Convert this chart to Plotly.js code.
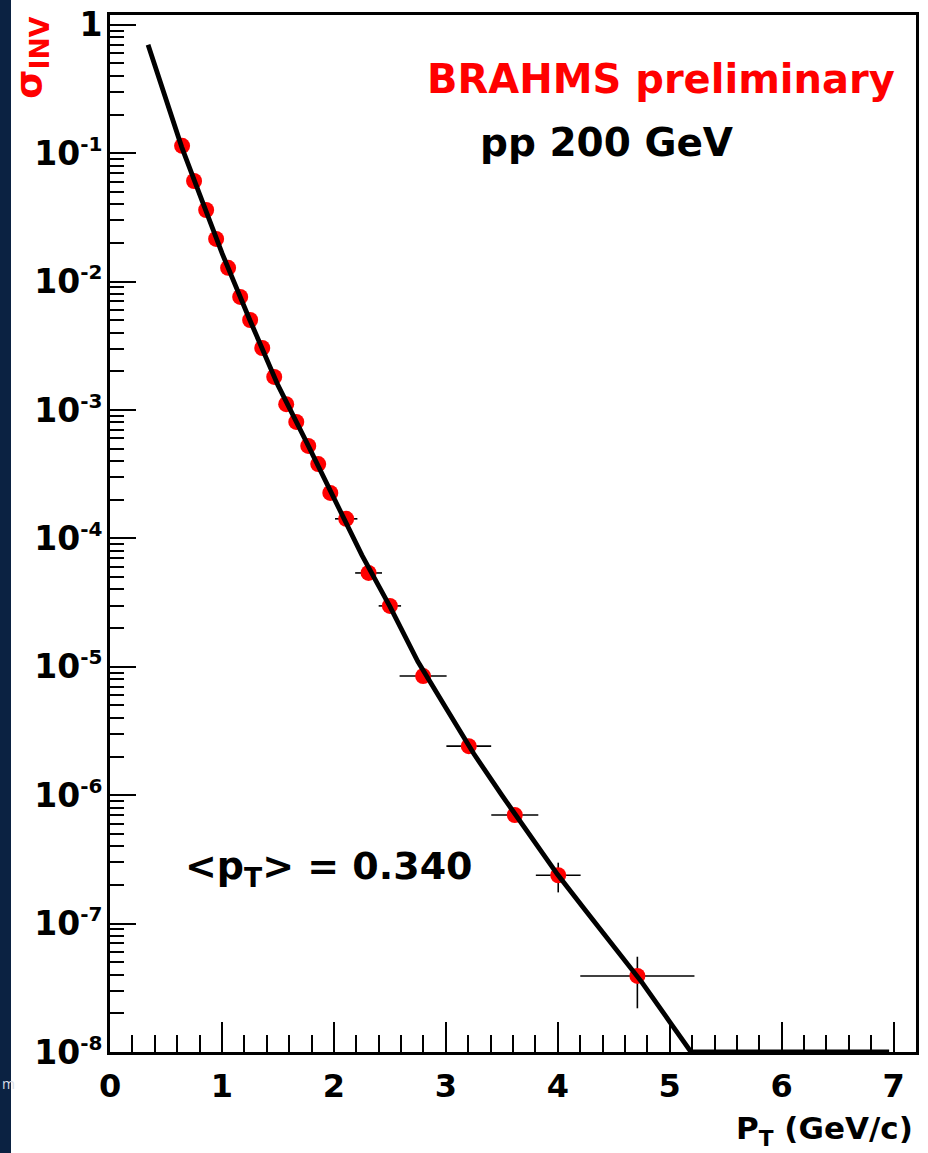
<!DOCTYPE html>
<html>
<head>
<meta charset="utf-8">
<script src="https://cdn.plot.ly/plotly-3.0.1.min.js"></script>
<style>
  html, body { margin: 0; padding: 0; background: #ffffff; }
  #chart { width: 928px; height: 1153px; }
</style>
</head>
<body>
<div id="chart"></div>
<script>
// ---- measured data (pT in GeV/c, invariant cross section) ----
const ptX = [0.644, 0.751, 0.859, 0.948, 1.055, 1.163, 1.252, 1.36, 1.467, 1.574, 1.664,
             1.771, 1.86, 1.968, 2.11, 2.31, 2.50, 2.797, 3.205, 3.616, 4.004, 4.711];
const sigmaY = [0.114, 0.0607, 0.0361, 0.0215, 0.0128, 0.00759, 0.00502, 0.00304, 0.00181,
                0.00111, 8.07e-4, 5.25e-4, 3.79e-4, 2.26e-4, 1.42e-4, 5.38e-5, 2.98e-5,
                8.47e-6, 2.41e-6, 7.01e-7, 2.38e-7, 3.91e-8];
const ptXErr = [0.05, 0.05, 0.05, 0.05, 0.05, 0.05, 0.05, 0.05, 0.05, 0.05, 0.05,
                0.05, 0.05, 0.05, 0.10, 0.12, 0.10, 0.21, 0.20, 0.21, 0.20, 0.51];
const sigmaErrPlus = [0, 0, 0, 0, 0, 0, 0, 0, 0, 0, 0,
                      0, 0, 0, 0, 0, 0, 0, 0, 0, 6.0e-8, 1.61e-8];
const sigmaErrMinus = [0, 0, 0, 0, 0, 0, 0, 0, 0, 0, 0,
                       0, 0, 0, 0, 0, 0, 0, 0, 0, 6.3e-8, 1.72e-8];

// ---- fit curve ----
const fitX = [0.34, 0.5, 0.64, 0.8, 1.0, 1.25, 1.5, 1.75, 2.0, 2.25, 2.5, 2.75, 3.0,
              3.25, 3.5, 3.75, 4.0, 4.25, 4.5, 4.75, 5.0, 5.19, 5.21, 6.96];
const fitY = [0.70, 0.264, 0.112, 0.048, 0.0167, 0.0050, 0.00156, 5.75e-4, 2.03e-4,
              7.4e-5, 2.95e-5, 1.1e-5, 4.8e-6, 2.1e-6, 1.0e-6, 4.9e-7, 2.4e-7, 1.26e-7,
              6.7e-8, 3.5e-8, 1.72e-8, 1.0e-8, 1.0e-8, 1.0e-8];

// ---- axis ticks ----
const yTickVals = [1, 1e-1, 1e-2, 1e-3, 1e-4, 1e-5, 1e-6, 1e-7, 1e-8];
const yExponents = ['', '-1', '-2', '-3', '-4', '-5', '-6', '-7', '-8'];
const yTickText = yExponents.map(e => e === '' ? '1'
  : '10<sup><span style="font-size:20px">' + e + '</span></sup>');
const xTickVals = [0, 1, 2, 3, 4, 5, 6, 7];
const yMinorVals = [];
for (let k = -8; k <= -1; k++) {
  for (let m = 2; m <= 9; m++) yMinorVals.push(m * Math.pow(10, k));
}

const FONT = 'DejaVu Sans, Liberation Sans, Arial, sans-serif';

const dataTrace = {
  type: 'scatter', mode: 'markers',
  x: ptX, y: sigmaY,
  marker: { color: '#ff0000', size: 16, line: { width: 0 } },
  error_x: { type: 'data', array: ptXErr, color: '#000000', thickness: 1.6, width: 0 },
  error_y: { type: 'data', symmetric: false, array: sigmaErrPlus, arrayminus: sigmaErrMinus,
             color: '#000000', thickness: 1.6, width: 0 },
  hoverinfo: 'skip', showlegend: false
};

const fitTrace = {
  type: 'scatter', mode: 'lines',
  x: fitX, y: fitY,
  line: { color: '#000000', width: 4.8, shape: 'linear' },
  cliponaxis: false,
  hoverinfo: 'skip', showlegend: false
};

const W = 928, H = 1153, mL = 110, mR = 12, mT = 15, mB = 101;
const pw = W - mL - mR, ph = H - mT - mB;
const px = v => (v - mL) / pw;
const py = v => (H - mB - v) / ph;

const layout = {
  width: W, height: H,
  margin: { l: mL, r: mR, t: mT, b: mB, pad: 0 },
  paper_bgcolor: '#ffffff', plot_bgcolor: '#ffffff',
  showlegend: false,
  xaxis: {
    type: 'linear', range: [0, 7.2],
    tickmode: 'array', tickvals: xTickVals, ticktext: xTickVals.map(String),
    ticks: 'inside', ticklen: 30, tickwidth: 2, tickcolor: '#000',
    minor: { tickmode: 'linear', tick0: 0, dtick: 0.2, ticks: 'inside', ticklen: 17, tickwidth: 2, tickcolor: '#000' },
    showline: true, linecolor: '#000', linewidth: 3, mirror: true,
    showgrid: false, zeroline: false,
    ticklabelstandoff: 4,
    tickfont: { family: FONT, size: 32, color: '#000', weight: 'bold' }
  },
  yaxis: {
    type: 'log', range: [-8, 0.076],
    tickmode: 'array', tickvals: yTickVals, ticktext: yTickText,
    ticks: 'inside', ticklen: 26, tickwidth: 2, tickcolor: '#000',
    minor: { tickmode: 'array', tickvals: yMinorVals, ticks: 'inside', ticklen: 14, tickwidth: 2, tickcolor: '#000' },
    showline: true, linecolor: '#000', linewidth: 3, mirror: true,
    showgrid: false, zeroline: false,
    ticklabelstandoff: -2,
    tickfont: { family: FONT, size: 33, color: '#000', weight: 'bold' }
  },
  shapes: [
    { type: 'rect', xref: 'paper', yref: 'paper', layer: 'below',
      x0: px(-5), x1: px(11), y0: py(H + 5), y1: py(-5),
      fillcolor: '#0b2242', line: { width: 0 } }
  ],
  annotations: [
    { xref: 'paper', yref: 'paper', x: px(661), y: py(79), xanchor: 'center', yanchor: 'middle',
      text: 'BRAHMS preliminary', showarrow: false,
      font: { family: FONT, size: 40, color: '#ff0000', weight: 'bold' } },
    { xref: 'paper', yref: 'paper', x: px(606), y: py(142), xanchor: 'center', yanchor: 'middle',
      text: 'pp 200 GeV', showarrow: false,
      font: { family: FONT, size: 39, color: '#000000', weight: 'bold' } },
    { xref: 'paper', yref: 'paper', x: px(329), y: py(868), xanchor: 'center', yanchor: 'middle',
      text: '&lt;p<sub>T</sub>&gt; = 0.340', showarrow: false,
      font: { family: FONT, size: 38, color: '#000000', weight: 'bold' } },
    { xref: 'paper', yref: 'paper', x: px(915), y: py(1130), xanchor: 'right', yanchor: 'middle',
      text: 'P<sub>T</sub> (GeV/c)', showarrow: false,
      font: { family: FONT, size: 31, color: '#000000', weight: 'bold' } },
    { xref: 'paper', yref: 'paper', x: px(31), y: py(58), xanchor: 'center', yanchor: 'middle',
      text: 'σ<sub>INV</sub>', showarrow: false, textangle: -90,
      font: { family: FONT, size: 38, color: '#ff0000', weight: 'bold' } },
    { xref: 'paper', yref: 'paper', x: px(0), y: py(1083), xanchor: 'left', yanchor: 'middle',
      text: 'm', showarrow: false,
      font: { family: 'Open Sans, sans-serif', size: 14, color: '#d8dde6' } }
  ]
};

Plotly.newPlot('chart', [dataTrace, fitTrace], layout, { staticPlot: true, displayModeBar: false });
</script>
</body>
</html>
